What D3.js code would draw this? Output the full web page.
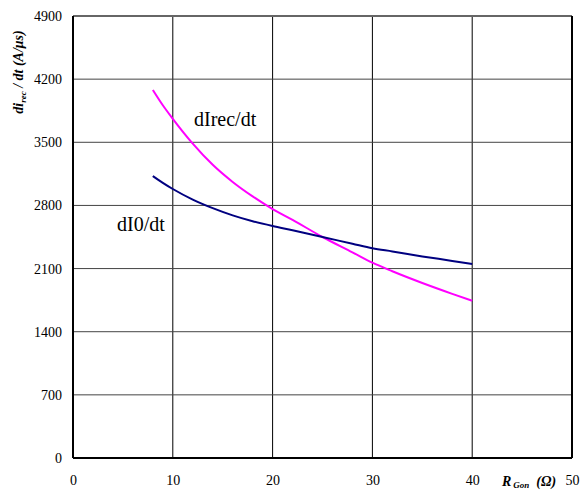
<!DOCTYPE html>
<html>
<head>
<meta charset="utf-8">
<script src="https://cdn.jsdelivr.net/npm/d3@7"></script>
<style>
  body { margin: 0; background: #fff; }
  text { font-family: "Liberation Serif", "Times New Roman", serif; }
</style>
</head>
<body>
<script>
// data
const rGon = [8, 9, 10, 12, 14, 16, 18, 20, 22, 25, 28, 30, 32, 35, 38, 40];
const dIrec = [4080, 3910, 3760, 3485, 3250, 3060, 2900, 2760, 2640, 2450, 2280, 2165, 2070, 1940, 1820, 1744];
const dI0 = [3126, 3050, 2982, 2865, 2770, 2690, 2625, 2572, 2525, 2450, 2375, 2325, 2290, 2235, 2185, 2150];
const xTicks = [0, 10, 20, 30, 40, 50];
const yTicks = [0, 700, 1400, 2100, 2800, 3500, 4200, 4900];

const width = 585, height = 492;
const margin = { top: 16, right: 13, bottom: 34, left: 73 };
const w = width - margin.left - margin.right;
const h = height - margin.top - margin.bottom;

const svg = d3.select('body').append('svg')
  .attr('width', width)
  .attr('height', height);

const g = svg.append('g')
  .attr('transform', `translate(${margin.left},${margin.top})`);

const x = d3.scaleLinear().domain([0, 50]).range([0, w]);
const y = d3.scaleLinear().domain([0, 4900]).range([h, 0]);

// grid
g.append('g').selectAll('line')
  .data(xTicks.slice(1, -1))
  .enter().append('line')
  .attr('x1', d => x(d)).attr('x2', d => x(d))
  .attr('y1', 0).attr('y2', h)
  .attr('stroke', '#000').attr('stroke-width', 1);

g.append('g').selectAll('line')
  .data(yTicks.slice(1, -1))
  .enter().append('line')
  .attr('x1', 0).attr('x2', w)
  .attr('y1', d => y(d)).attr('y2', d => y(d))
  .attr('stroke', '#444').attr('stroke-width', 1);

// frame
g.append('line').attr('x1', 0).attr('x2', w).attr('y1', 0).attr('y2', 0)
  .attr('stroke', '#666').attr('stroke-width', 2);
g.append('line').attr('x1', 0).attr('x2', 0).attr('y1', 0).attr('y2', h)
  .attr('stroke', '#000').attr('stroke-width', 2);
g.append('line').attr('x1', w).attr('x2', w).attr('y1', 0).attr('y2', h)
  .attr('stroke', '#000').attr('stroke-width', 2);
g.append('line').attr('x1', 0).attr('x2', w).attr('y1', h).attr('y2', h)
  .attr('stroke', '#000').attr('stroke-width', 2);

// axes (labels only)
const xAxis = g.append('g')
  .attr('transform', `translate(0,${h})`)
  .call(d3.axisBottom(x).tickValues(xTicks).tickSize(0).tickPadding(17).tickFormat(d3.format('d')));
const yAxis = g.append('g')
  .call(d3.axisLeft(y).tickValues(yTicks).tickSize(0).tickPadding(11).tickFormat(d3.format('d')));
[xAxis, yAxis].forEach(a => {
  a.select('.domain').remove();
  a.selectAll('text')
    .attr('font-family', '"Liberation Serif", serif')
    .attr('font-size', 14)
    .attr('fill', '#000');
});

// curves
const line = vals => d3.line()
  .x((d, i) => x(rGon[i]))
  .y(d => y(d))
  .curve(d3.curveMonotoneX)(vals);

g.append('path').attr('d', line(dIrec))
  .attr('fill', 'none').attr('stroke', '#ff00ff').attr('stroke-width', 2);
g.append('path').attr('d', line(dI0))
  .attr('fill', 'none').attr('stroke', '#000080').attr('stroke-width', 2);

// curve labels
svg.append('text').attr('x', 194).attr('y', 126)
  .attr('font-size', 20).text('dIrec/dt');
svg.append('text').attr('x', 117).attr('y', 231)
  .attr('font-size', 20).text('dI0/dt');

// y title
const yt = svg.append('text')
  .attr('transform', 'translate(23,72) rotate(-90)')
  .attr('text-anchor', 'middle')
  .attr('font-size', 14).attr('font-weight', 'bold').attr('font-style', 'italic');
yt.append('tspan').text('di');
yt.append('tspan').attr('font-size', 9).attr('dy', 3).text('rec');
yt.append('tspan').attr('dy', -3).text(' / dt (A/\u03bcs)');

// x title
const xt = svg.append('text')
  .attr('x', 502).attr('y', 486)
  .attr('font-size', 14).attr('font-weight', 'bold').attr('font-style', 'italic');
xt.append('tspan').text('R');
xt.append('tspan').attr('font-size', 9).attr('dx', 2).attr('dy', 2).text('Gon');
xt.append('tspan').attr('dx', 7).attr('dy', -2).text('(\u03a9)');
</script>
</body>
</html>
